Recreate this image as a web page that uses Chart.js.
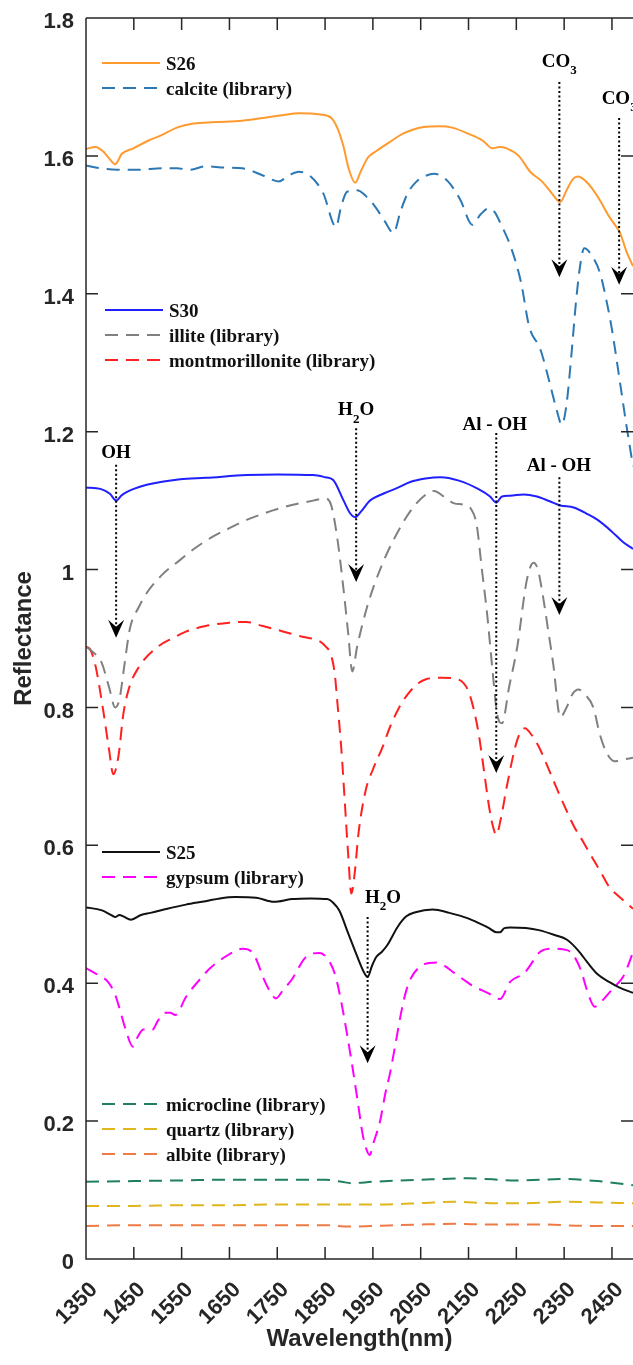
<!DOCTYPE html>
<html>
<head>
<meta charset="utf-8">
<script src="https://cdn.jsdelivr.net/npm/chart.js@4.4.1/dist/chart.umd.min.js"></script>
<style>
  html, body { margin: 0; padding: 0; background: #fff; }
  #wrap { width: 633px; height: 1365px; position: relative; }
</style>
</head>
<body>
<div id="wrap"><canvas id="chart"></canvas></div>
<script>
const xTicks = [1350, 1450, 1550, 1650, 1750, 1850, 1950, 2050, 2150, 2250, 2350, 2450];
const yTicks = [0, 0.2, 0.4, 0.6, 0.8, 1, 1.2, 1.4, 1.6, 1.8];

// [wavelength nm, reflectance]
const s26 = [[1350,1.610],[1370,1.613],[1385,1.607],[1400,1.595],[1411,1.588],[1425,1.603],[1449,1.611],[1480,1.622],[1508,1.630],[1540,1.641],[1575,1.647],[1620,1.649],[1677,1.651],[1720,1.655],[1760,1.659],[1795,1.662],[1840,1.660],[1863,1.655],[1876,1.640],[1888,1.615],[1900,1.580],[1913,1.561],[1925,1.578],[1940,1.598],[1955,1.606],[1985,1.620],[2015,1.633],[2057,1.642],[2090,1.643],[2116,1.641],[2150,1.632],[2180,1.622],[2200,1.611],[2215,1.613],[2230,1.611],[2255,1.600],[2279,1.577],[2305,1.562],[2325,1.545],[2342,1.533],[2355,1.550],[2368,1.566],[2379,1.570],[2400,1.560],[2420,1.541],[2445,1.511],[2467,1.488],[2480,1.462],[2494,1.440]];
const calcite = [[1350,1.586],[1380,1.582],[1415,1.580],[1460,1.580],[1508,1.582],[1540,1.582],[1567,1.580],[1601,1.585],[1640,1.583],[1677,1.582],[1719,1.572],[1753,1.563],[1775,1.572],[1795,1.577],[1820,1.570],[1846,1.546],[1873,1.497],[1883,1.525],[1896,1.548],[1917,1.550],[1935,1.542],[1955,1.526],[1975,1.505],[1993,1.488],[2008,1.520],[2023,1.546],[2040,1.562],[2057,1.570],[2078,1.574],[2107,1.563],[2133,1.536],[2158,1.500],[2175,1.515],[2192,1.524],[2205,1.518],[2217,1.502],[2240,1.465],[2260,1.416],[2277,1.352],[2300,1.320],[2320,1.270],[2335,1.230],[2345,1.210],[2355,1.240],[2365,1.310],[2375,1.390],[2385,1.448],[2392,1.466],[2410,1.453],[2425,1.430],[2440,1.385],[2450,1.348],[2465,1.280],[2480,1.210],[2494,1.150]];
const s30 = [[1350,1.119],[1380,1.117],[1400,1.110],[1413,1.100],[1425,1.108],[1450,1.117],[1477,1.123],[1547,1.131],[1600,1.133],[1686,1.137],[1750,1.138],[1825,1.137],[1850,1.134],[1867,1.130],[1888,1.101],[1902,1.082],[1913,1.076],[1925,1.084],[1944,1.100],[1975,1.111],[2000,1.118],[2028,1.127],[2060,1.132],[2091,1.134],[2130,1.129],[2170,1.117],[2195,1.106],[2208,1.097],[2220,1.106],[2237,1.107],[2265,1.109],[2293,1.106],[2320,1.099],[2342,1.093],[2370,1.090],[2400,1.080],[2420,1.072],[2450,1.055],[2473,1.040],[2494,1.030]];
const illite = [[1350,0.888],[1365,0.880],[1382,0.866],[1398,0.830],[1411,0.800],[1420,0.812],[1430,0.860],[1442,0.915],[1460,0.945],[1477,0.966],[1510,0.993],[1547,1.014],[1580,1.032],[1616,1.048],[1650,1.060],[1686,1.072],[1720,1.081],[1756,1.089],[1790,1.095],[1825,1.100],[1850,1.103],[1862,1.095],[1875,1.048],[1888,0.975],[1898,0.910],[1907,0.852],[1917,0.888],[1938,0.946],[1965,1.000],[2000,1.052],[2034,1.090],[2063,1.110],[2078,1.114],[2100,1.105],[2120,1.096],[2140,1.094],[2155,1.088],[2167,1.065],[2178,1.000],[2189,0.935],[2200,0.855],[2210,0.790],[2220,0.777],[2235,0.830],[2252,0.888],[2272,0.985],[2286,1.010],[2295,1.000],[2306,0.960],[2317,0.910],[2327,0.864],[2342,0.786],[2355,0.800],[2368,0.820],[2380,0.826],[2392,0.820],[2411,0.800],[2425,0.760],[2439,0.734],[2455,0.722],[2470,0.724],[2494,0.727]];
const montmorillonite = [[1350,0.888],[1358,0.885],[1370,0.860],[1385,0.800],[1398,0.740],[1407,0.703],[1418,0.730],[1428,0.790],[1440,0.828],[1460,0.858],[1500,0.888],[1530,0.900],[1559,0.910],[1600,0.918],[1650,0.923],[1685,0.924],[1720,0.918],[1758,0.911],[1800,0.903],[1839,0.896],[1852,0.888],[1862,0.877],[1870,0.850],[1876,0.805],[1884,0.740],[1891,0.666],[1898,0.590],[1905,0.530],[1912,0.560],[1920,0.618],[1935,0.680],[1950,0.710],[1970,0.742],[1986,0.772],[2005,0.800],[2024,0.820],[2045,0.835],[2061,0.841],[2095,0.843],[2127,0.841],[2140,0.835],[2149,0.825],[2160,0.800],[2171,0.763],[2182,0.710],[2193,0.656],[2202,0.625],[2208,0.615],[2218,0.640],[2230,0.685],[2252,0.753],[2268,0.770],[2282,0.760],[2297,0.743],[2315,0.715],[2333,0.685],[2352,0.655],[2371,0.627],[2390,0.605],[2408,0.583],[2426,0.562],[2444,0.540],[2466,0.525],[2494,0.508]];
const s25 = [[1350,0.510],[1382,0.506],[1400,0.500],[1411,0.496],[1420,0.499],[1428,0.497],[1444,0.492],[1465,0.499],[1485,0.502],[1520,0.508],[1559,0.514],[1600,0.519],[1630,0.523],[1662,0.525],[1706,0.524],[1743,0.518],[1780,0.522],[1820,0.523],[1854,0.522],[1868,0.516],[1880,0.505],[1898,0.473],[1920,0.434],[1932,0.415],[1939,0.409],[1948,0.425],[1957,0.438],[1968,0.445],[1980,0.455],[2002,0.482],[2020,0.497],[2039,0.503],[2075,0.507],[2110,0.502],[2149,0.494],[2175,0.486],[2193,0.480],[2208,0.474],[2216,0.474],[2225,0.480],[2237,0.481],[2270,0.480],[2297,0.477],[2330,0.470],[2356,0.463],[2380,0.447],[2400,0.429],[2420,0.413],[2444,0.402],[2465,0.394],[2494,0.386]];
const gypsum = [[1350,0.422],[1375,0.412],[1396,0.402],[1410,0.385],[1419,0.366],[1432,0.335],[1448,0.308],[1458,0.322],[1470,0.333],[1488,0.332],[1500,0.345],[1515,0.357],[1526,0.357],[1537,0.354],[1559,0.380],[1585,0.403],[1610,0.422],[1645,0.440],[1677,0.450],[1699,0.444],[1710,0.428],[1720,0.409],[1735,0.388],[1747,0.378],[1762,0.390],[1780,0.405],[1810,0.438],[1839,0.444],[1861,0.429],[1872,0.410],[1883,0.376],[1895,0.330],[1906,0.284],[1918,0.230],[1928,0.183],[1936,0.160],[1943,0.151],[1952,0.170],[1965,0.200],[1976,0.240],[1986,0.270],[1998,0.315],[2009,0.357],[2020,0.390],[2031,0.409],[2053,0.426],[2083,0.430],[2100,0.425],[2120,0.415],[2140,0.405],[2157,0.397],[2193,0.385],[2216,0.377],[2237,0.402],[2267,0.415],[2285,0.432],[2297,0.444],[2326,0.450],[2356,0.448],[2370,0.440],[2385,0.419],[2400,0.385],[2414,0.366],[2430,0.375],[2444,0.386],[2460,0.398],[2473,0.409],[2485,0.428],[2494,0.445]];
const microcline = [[1350,0.112],[1450,0.113],[1550,0.114],[1650,0.115],[1750,0.115],[1850,0.115],[1885,0.112],[1905,0.110],[1950,0.112],[2050,0.115],[2150,0.117],[2250,0.114],[2350,0.116],[2420,0.113],[2460,0.110],[2494,0.107]];
const quartz = [[1350,0.077],[1450,0.077],[1550,0.078],[1650,0.078],[1750,0.079],[1850,0.079],[1950,0.079],[2050,0.081],[2120,0.083],[2200,0.081],[2270,0.081],[2350,0.083],[2420,0.082],[2494,0.081]];
const albite = [[1350,0.048],[1450,0.049],[1550,0.049],[1650,0.049],[1750,0.049],[1850,0.049],[1900,0.047],[1950,0.048],[2050,0.050],[2130,0.051],[2200,0.050],[2300,0.050],[2400,0.048],[2494,0.048]];

// absorption features: text, arrow wavelength, text wavelength, text / line top / arrow tip reflectance
const bands = [
  { label: 'CO_3', at: 2340, textAt: 2340, textY: 1.736, top: 1.707, tip: 1.424 },
  { label: 'CO_3', at: 2465, textAt: 2465, textY: 1.683, top: 1.655, tip: 1.413 },
  { label: 'OH', at: 1413, textAt: 1413, textY: 1.169, top: 1.152, tip: 0.901 },
  { label: 'H_2O', at: 1915, textAt: 1915, textY: 1.231, top: 1.205, tip: 0.982 },
  { label: 'Al - OH', at: 2208, textAt: 2205, textY: 1.210, top: 1.198, tip: 0.705 },
  { label: 'Al - OH', at: 2340, textAt: 2339, textY: 1.150, top: 1.134, tip: 0.934 },
  { label: 'H_2O', at: 1939, textAt: 1971, textY: 0.524, top: 0.496, tip: 0.284 }
];

const legendGroups = [
  { x: 102, y: 63, items: ['S26', 'calcite (library)'] },
  { x: 105, y: 310, items: ['S30', 'illite (library)', 'montmorillonite (library)'] },
  { x: 102, y: 852, items: ['S25', 'gypsum (library)'] },
  { x: 102, y: 1104, items: ['microcline (library)', 'quartz (library)', 'albite (library)'] }
];

const AXIS = '#262626';
const SANS = '"Liberation Sans", Arial, sans-serif';
const SERIF = '"Liberation Serif", "Times New Roman", serif';
const DASH = [13, 8];

function spectrum(label, points, color, dashed) {
  return {
    label,
    data: points.map(([x, y]) => ({ x, y })),
    borderColor: color,
    borderWidth: 2,
    borderDash: dashed ? DASH : [],
    pointRadius: 0,
    fill: false,
    cubicInterpolationMode: 'monotone'
  };
}

function drawRichText(ctx, text, cx, cy) {
  // "_x" makes the next character a subscript
  const parts = [];
  for (let i = 0; i < text.length; i++) {
    if (text[i] === '_') { parts.push({ t: text[++i], sub: true }); }
    else if (parts.length && !parts[parts.length - 1].sub) { parts[parts.length - 1].t += text[i]; }
    else { parts.push({ t: text[i], sub: false }); }
  }
  const fontFor = (p) => p.sub ? `bold 13px ${SERIF}` : `bold 19px ${SERIF}`;
  let width = 0;
  parts.forEach((p) => { ctx.font = fontFor(p); p.w = ctx.measureText(p.t).width; width += p.w; });
  let x = cx - width / 2;
  ctx.textAlign = 'left';
  ctx.textBaseline = 'middle';
  parts.forEach((p) => {
    ctx.font = fontFor(p);
    ctx.fillText(p.t, x, p.sub ? cy + 9 : cy);
    x += p.w;
  });
}

const decorations = {
  id: 'decorations',
  afterDraw(chart) {
    const { ctx, chartArea: a, scales: { x, y } } = chart;
    ctx.save();

    // axis lines and inward ticks
    ctx.strokeStyle = AXIS;
    ctx.lineWidth = 1.5;
    ctx.setLineDash([]);
    ctx.beginPath();
    ctx.moveTo(a.left, a.top); ctx.lineTo(a.right, a.top);
    ctx.moveTo(a.left, a.top); ctx.lineTo(a.left, a.bottom); ctx.lineTo(a.right, a.bottom);
    xTicks.forEach((v) => {
      const px = x.getPixelForValue(v);
      ctx.moveTo(px, a.bottom); ctx.lineTo(px, a.bottom - 12);
      ctx.moveTo(px, a.top); ctx.lineTo(px, a.top + 12);
    });
    yTicks.forEach((v) => {
      const py = y.getPixelForValue(v);
      ctx.moveTo(a.left, py); ctx.lineTo(a.left + 12, py);
      ctx.moveTo(a.right, py); ctx.lineTo(a.right - 12, py);
    });
    ctx.stroke();

    // absorption feature arrows
    ctx.fillStyle = '#000';
    ctx.strokeStyle = '#000';
    bands.forEach((b) => {
      const px = x.getPixelForValue(b.at);
      const top = y.getPixelForValue(b.top);
      const tip = y.getPixelForValue(b.tip);
      ctx.lineWidth = 2;
      ctx.setLineDash([2, 2.5]);
      ctx.beginPath();
      ctx.moveTo(px, top);
      ctx.lineTo(px, tip - 10);
      ctx.stroke();
      ctx.setLineDash([]);
      ctx.beginPath();
      ctx.moveTo(px, tip);
      ctx.lineTo(px - 8, tip - 18);
      ctx.lineTo(px, tip - 11);
      ctx.lineTo(px + 8, tip - 18);
      ctx.closePath();
      ctx.fill();
      drawRichText(ctx, b.label, x.getPixelForValue(b.textAt), y.getPixelForValue(b.textY));
    });

    // grouped legends
    ctx.font = `bold 19px ${SERIF}`;
    ctx.textAlign = 'left';
    ctx.textBaseline = 'middle';
    legendGroups.forEach((g) => {
      g.items.forEach((name, i) => {
        const ds = chart.data.datasets.find((d) => d.label === name);
        const ly = g.y + i * 25;
        ctx.strokeStyle = ds.borderColor;
        ctx.lineWidth = 2;
        ctx.setLineDash(ds.borderDash);
        ctx.beginPath();
        ctx.moveTo(g.x, ly);
        ctx.lineTo(g.x + 58, ly);
        ctx.stroke();
        ctx.fillStyle = '#111';
        ctx.fillText(name, g.x + 64, ly + 2);
      });
    });
    ctx.restore();
  }
};

new Chart(document.getElementById('chart').getContext('2d'), {
  type: 'line',
  data: {
    datasets: [
      spectrum('S26', s26, '#ff9a2e', false),
      spectrum('calcite (library)', calcite, '#2b78b4', true),
      spectrum('S30', s30, '#1f1fff', false),
      spectrum('illite (library)', illite, '#808080', true),
      spectrum('montmorillonite (library)', montmorillonite, '#ff2020', true),
      spectrum('S25', s25, '#111111', false),
      spectrum('gypsum (library)', gypsum, '#ff00ff', true),
      spectrum('microcline (library)', microcline, '#1f7f5f', true),
      spectrum('quartz (library)', quartz, '#e0b51e', true),
      spectrum('albite (library)', albite, '#ee7a45', true)
    ]
  },
  options: {
    responsive: true,
    maintainAspectRatio: false,
    animation: false,
    layout: { padding: { top: 18, right: 0, bottom: 0, left: 0 } },
    plugins: {
      legend: { display: false },
      tooltip: { enabled: false }
    },
    scales: {
      x: {
        type: 'linear',
        min: 1350,
        max: 2494,
        grid: { display: false, drawTicks: false },
        border: { display: false },
        afterBuildTicks: (s) => { s.ticks = xTicks.map((value) => ({ value })); },
        afterFit: (s) => { s.height = 106; s.paddingLeft = 0; s.paddingRight = 0; },
        ticks: {
          autoSkip: false,
          minRotation: 45,
          maxRotation: 45,
          labelOffset: 8,
          padding: 18,
          color: AXIS,
          font: { family: SANS, size: 22, weight: 'bold' },
          callback: (v) => String(v)
        },
        title: {
          display: true,
          text: 'Wavelength(nm)',
          color: AXIS,
          padding: { top: 0, bottom: 11 },
          font: { family: SANS, size: 24, weight: 'bold' }
        }
      },
      y: {
        min: 0,
        max: 1.8,
        grid: { display: false, drawTicks: false },
        border: { display: false },
        afterBuildTicks: (s) => { s.ticks = yTicks.map((value) => ({ value })); },
        afterFit: (s) => { s.width = 86; s.paddingTop = 0; s.paddingBottom = 0; },
        ticks: {
          padding: 12,
          labelOffset: 4,
          color: AXIS,
          font: { family: SANS, size: 22, weight: 'bold' },
          callback: (v) => String(+v.toFixed(1))
        },
        title: {
          display: true,
          text: 'Reflectance',
          color: AXIS,
          padding: { top: 10, bottom: 0 },
          font: { family: SANS, size: 24, weight: 'bold' }
        }
      }
    }
  },
  plugins: [decorations]
});
</script>
</body>
</html>
